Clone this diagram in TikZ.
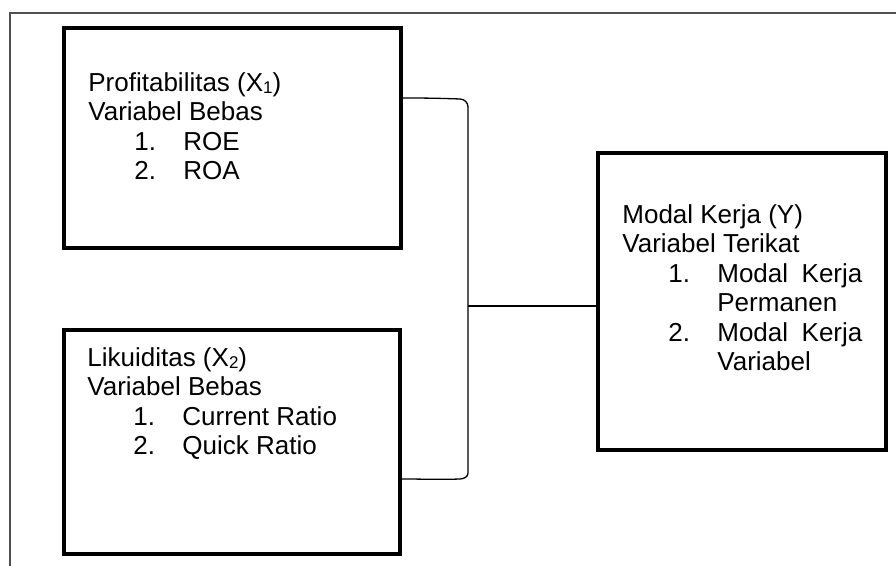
\documentclass[tikz,border=0pt]{standalone}
\usepackage{fontspec}
\setmainfont{Liberation Sans}
\usetikzlibrary{calc}
\definecolor{frame_grey}{RGB}{80, 80, 80}
\tikzstyle{vbox}=[rectangle,draw=black,line width=2pt,inner sep=0pt]
\tikzstyle{vtext}=[anchor=base west,align=left,inner sep=0pt,
  font=\fontsize{13}{14.75}\selectfont]
\tikzstyle{link}=[draw=black,line width=0.65pt]
\tikzstyle{none}=[]
\newcommand{\itm}[2]{\hspace*{23pt}\makebox[24.5pt][l]{#1}#2}
\newcommand{\sbs}[1]{\raisebox{-1.2pt}{\fontsize{8.5}{8.5}\selectfont #1}}

\begin{document}
\begin{tikzpicture}[x=0.5pt, y=-0.5pt]
            \useasboundingbox (0, 0) rectangle (896, 566);
            \draw [draw=frame_grey, line width=0.8pt] (10, 566) -- (10, 13) -- (896, 13);
            \node [style=vbox, minimum width=168.5pt, minimum height=109.75pt] (x1) at (232.5, 138.25) {};
            \node [style=vbox, minimum width=168pt, minimum height=112pt] (x2) at (232, 442) {};
            \node [style=vbox, minimum width=144.25pt, minimum height=148.75pt] (y) at (741.75, 301.75) {};
            % base anchor sits on the last line
            \node [style=vtext] (x1t) at (88, 180) {Profitabilitas (X\sbs{1})\\
              Variabel Bebas\\ \itm{1.}{ROE}\\ \itm{2.}{ROA}};
            \node [style=vtext] (x2t) at (87, 455) {Likuiditas (X\sbs{2})\\
              Variabel Bebas\\ \itm{1.}{Current Ratio}\\ \itm{2.}{Quick Ratio}};
            \node [style=vtext] (yt) at (622, 371) {Modal Kerja (Y)\\ Variabel Terikat\\
              \itm{1.}{\makebox[72.5pt][s]{Modal Kerja}}\\ \hspace*{47.5pt}Permanen\\
              \itm{2.}{\makebox[72.5pt][s]{Modal Kerja}}\\ \hspace*{47.5pt}Variabel};
            \coordinate (jtop) at (468, 103);
            \coordinate (jbot) at (468, 477);
            \coordinate (jmid) at (468, 306);
            \draw [style=link] (x1.east |- 0, 98) to [out=0, in=178] ($(jtop)+(-8, -4)$)
              to [out=-2, in=90] ($(jtop)+(0, 4)$) -- ($(jbot)+(0, -4)$)
              to [out=-90, in=2] ($(jbot)+(-8, 2)$) to [out=182, in=0] (x2.east |- 0, 479);
            \draw [style=link] (jmid) -- (jmid -| y.west);
    \end{tikzpicture}
\end{document}
